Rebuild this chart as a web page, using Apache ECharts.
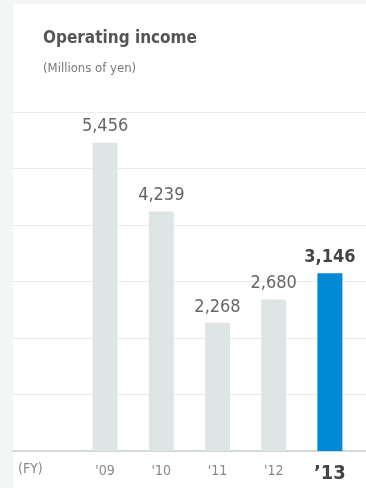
<!DOCTYPE html>
<html>
<head>
<meta charset="utf-8">
<script src="https://cdn.jsdelivr.net/npm/echarts@6/dist/echarts.min.js"></script>
<style>
  html, body { margin: 0; padding: 0; background: #f4f6f6; }
  #chart { width: 366px; height: 488px; }
</style>
</head>
<body>
<div id="chart"></div>
<script>
// Operating income by fiscal year (millions of yen)
const years = ["'09", "'10", "'11", "'12", "\u201913"];
const income = [5456, 4239, 2268, 2680, 3146];
const yTicks = { min: 0, max: 6000, interval: 1000 };

const narrow = "'Liberation Sans Narrow', 'DejaVu Sans Condensed', sans-serif";
const latest = years.length - 1;

const chart = echarts.init(document.getElementById('chart'));

chart.setOption({
  backgroundColor: '#f4f6f6',
  animation: false,
  graphic: [
    { type: 'rect', z: -10, shape: { x: 13, y: 4, width: 360, height: 490 }, style: { fill: '#ffffff' } },
    { type: 'text', left: 18, top: 462, style: { text: '(FY)', font: '14px ' + narrow, fill: '#888' } }
  ],
  title: {
    text: 'Operating income',
    subtext: '(Millions of yen)',
    left: 38,
    top: 25,
    itemGap: 15,
    textStyle: { fontFamily: narrow, fontWeight: 'bold', fontSize: 17, color: '#555' },
    subtextStyle: { fontFamily: narrow, fontSize: 13, color: '#777' }
  },
  grid: [
    // full-width grid that carries the horizontal rules
    { left: 13, right: 0, top: 112, bottom: 37 },
    // grid for the bars
    { left: 77, right: 8, top: 112, bottom: 37 }
  ],
  xAxis: [
    {
      gridIndex: 0, type: 'value', min: 0, max: 1,
      axisLine: { show: true, lineStyle: { color: '#d2d7d7', width: 2 } },
      axisTick: { show: false }, axisLabel: { show: false }, splitLine: { show: false }
    },
    {
      gridIndex: 1, type: 'category',
      data: years.map((y, i) => i === latest
        ? { value: y, textStyle: { fontWeight: 'bold', fontSize: 20, color: '#444' } }
        : y),
      axisLine: { show: false }, axisTick: { show: false },
      axisLabel: { fontFamily: narrow, fontSize: 14, color: '#888', margin: 13 }
    }
  ],
  yAxis: [
    {
      gridIndex: 0, type: 'value', min: yTicks.min, max: yTicks.max, interval: yTicks.interval,
      axisLine: { show: false }, axisTick: { show: false }, axisLabel: { show: false },
      splitLine: { lineStyle: { color: '#e6eaea', width: 1 } }
    },
    {
      gridIndex: 1, type: 'value', min: yTicks.min, max: yTicks.max, interval: yTicks.interval,
      show: false
    }
  ],
  series: [{
    type: 'bar',
    xAxisIndex: 1,
    yAxisIndex: 1,
    barWidth: 25,
    z: 5,
    data: income.map((v, i) => i === latest
      ? { value: v, itemStyle: { color: '#0089d5' },
          label: { fontWeight: 'bold', color: '#444' } }
      : { value: v, itemStyle: { color: '#dfe4e4' } }),
    label: {
      show: true,
      position: 'top',
      distance: 7,
      fontFamily: narrow,
      fontSize: 18,
      color: '#666',
      formatter: p => p.value.toLocaleString('en-US')
    }
  }]
});
</script>
</body>
</html>
